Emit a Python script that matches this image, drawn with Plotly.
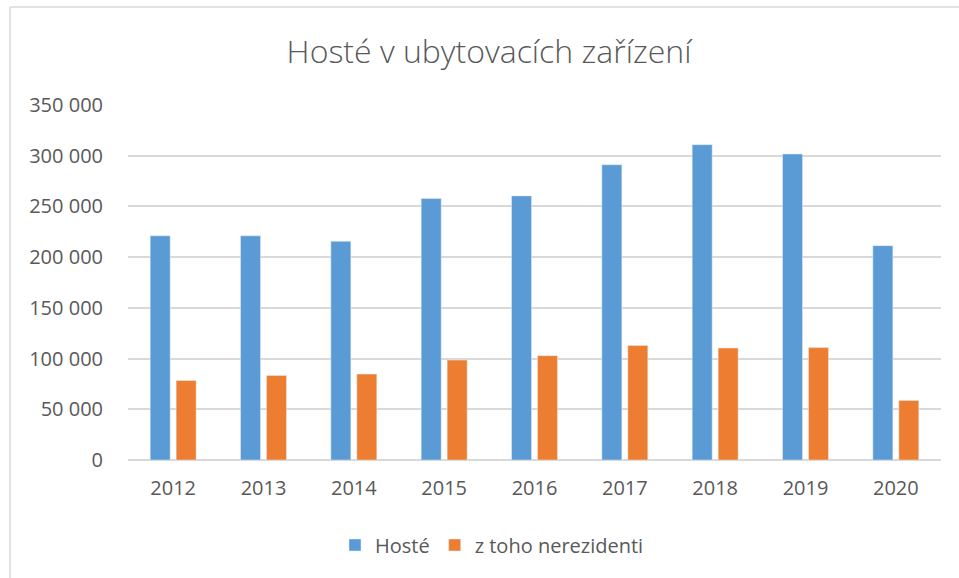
import plotly.graph_objects as go

years = ["2012", "2013", "2014", "2015", "2016", "2017", "2018", "2019", "2020"]
hoste = [221000, 221000, 215600, 257800, 260400, 291100, 310900, 301700, 211300]
nerezidenti = [78400, 83400, 84700, 98500, 102900, 113000, 110400, 110800, 58700]

BLUE = "#5B9BD5"
ORANGE = "#ED7D31"
TEXT = "#595959"
GRID = "#D9D9D9"
FONT = "Open Sans"

W, H = 959, 578

fig = go.Figure()
fig.add_trace(go.Bar(name="Hosté", x=years, y=hoste, marker=dict(color=BLUE)))
fig.add_trace(go.Bar(name="z toho nerezidenti", x=years, y=nerezidenti,
                     marker=dict(color=ORANGE)))

fig.update_layout(
    width=W, height=H,
    margin=dict(l=128, r=18, t=105, b=118),
    paper_bgcolor="white", plot_bgcolor="white",
    barmode="group", bargap=0.425, bargroupgap=0.23,
    separators=", ",
    font=dict(family=FONT, size=20, color=TEXT),
    title=dict(text="Hosté v ubytovacích zařízení",
               font=dict(family=FONT, size=32, color=TEXT, weight=300),
               x=489 / W, xanchor="center", xref="container",
               y=1 - 52 / H, yanchor="middle", yref="container"),
    legend=dict(orientation="h", xref="container", yref="container",
                x=492 / W, xanchor="center", y=1 - 545 / H, yanchor="middle",
                font=dict(family=FONT, size=20, color=TEXT),
                itemwidth=30, traceorder="normal"),
    showlegend=True,
)

fig.update_yaxes(range=[0, 350000], dtick=50000, tickformat=",d",
                 showgrid=True, gridcolor=GRID, gridwidth=1.5,
                 zeroline=True, zerolinecolor=GRID, zerolinewidth=1.5,
                 showline=False, ticks="", ticklabelstandoff=24,
                 tickfont=dict(family=FONT, size=20, color=TEXT))
fig.update_xaxes(showgrid=False, showline=False, ticks="",
                 ticklabelstandoff=14,
                 tickfont=dict(family=FONT, size=20, color=TEXT))

# chart frame: left and top edges
fig.add_shape(type="line", xref="paper", yref="paper",
              x0=(10 - 128) / (W - 128 - 18), x1=(10 - 128) / (W - 128 - 18),
              y0=-118 / (H - 105 - 118), y1=1 + 98 / (H - 105 - 118),
              line=dict(color=GRID, width=1.5))
fig.add_shape(type="line", xref="paper", yref="paper",
              x0=(10 - 128) / (W - 128 - 18), x1=1 + 18 / (W - 128 - 18),
              y0=1 + 98 / (H - 105 - 118), y1=1 + 98 / (H - 105 - 118),
              line=dict(color=GRID, width=1.5))

fig.write_html("out.html")
